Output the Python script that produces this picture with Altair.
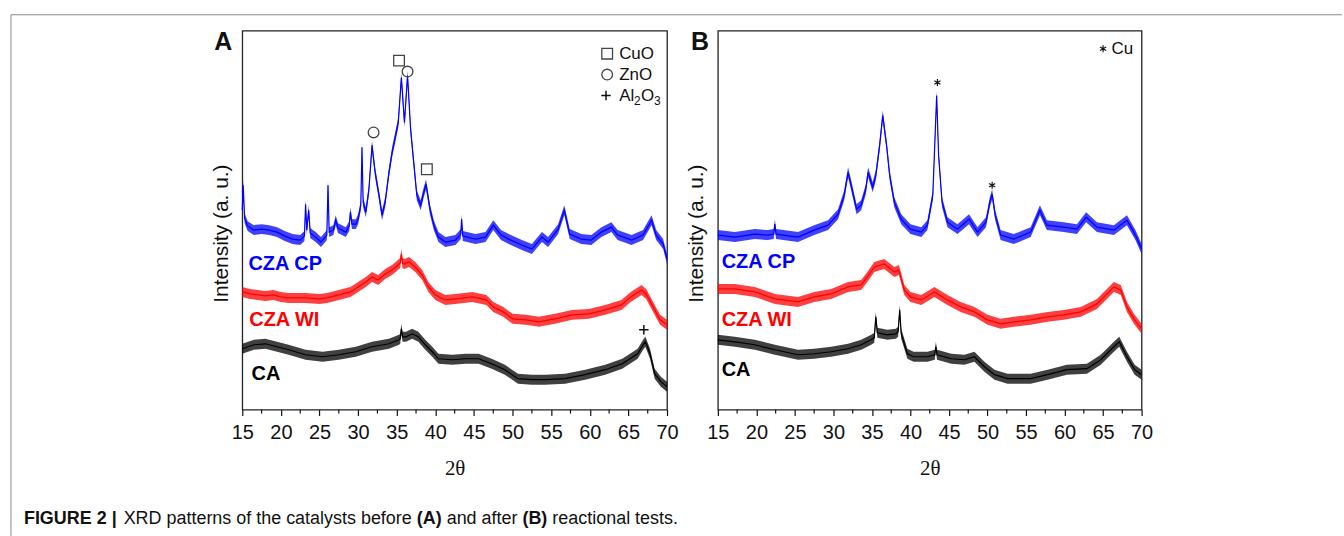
import altair as alt
import pandas as pd

# ---------------- data (2θ in degrees, intensity in a.u.) ----------------
SERIES = ["CZA CP", "CZA WI", "CA"]
COLORS = ["#0000ff", "#ff0000", "#000000"]

# Panel A: before the reactional tests
A_CP = [(15.0, 200), (15.12, 225), (15.3, 192), (15.7, 184), (16.5, 180), (17.5, 181), (18.5, 180),
        (19.5, 178), (20.5, 174), (21.5, 171), (22.5, 170), (23.05, 174), (23.2, 206), (23.35, 180),
        (23.6, 200), (23.8, 177), (24.5, 173), (25.2, 168), (25.95, 175), (26.1, 225), (26.25, 178),
        (26.8, 180), (27.1, 190), (27.4, 182), (28.4, 178), (28.85, 184), (29.0, 198), (29.2, 186),
        (29.7, 186), (30.0, 191), (30.35, 205), (30.5, 263), (30.65, 208), (31.0, 198), (31.4, 221),
        (31.8, 265), (32.2, 238), (32.7, 215), (33.1, 195), (33.5, 208), (34.0, 238), (34.4, 258),
        (34.8, 273), (35.2, 288), (35.6, 333), (36.0, 288), (36.4, 335), (36.8, 281), (37.2, 248),
        (37.6, 215), (38.1, 205), (38.5, 218), (38.8, 226), (39.3, 201), (39.8, 185), (40.4, 173),
        (41.3, 168), (42.6, 170), (43.3, 176), (43.4, 191), (43.55, 174), (45.2, 171), (46.5, 173),
        (47.5, 185), (48.5, 175), (49.5, 171), (51.2, 165), (52.5, 161), (53.8, 173), (54.6, 168),
        (55.9, 181), (56.7, 200), (57.4, 176), (58.9, 171), (60.2, 170), (61.5, 178), (62.8, 183),
        (63.6, 175), (65.4, 170), (66.9, 175), (68.0, 190), (68.6, 175), (69.5, 166), (70.0, 151)]
A_WI = [(15.0, 118), (16.0, 116), (17.0, 115), (18.0, 114), (19.0, 115), (20.0, 113), (21.0, 112),
        (22.0, 112), (23.2, 112), (25.0, 111), (26.0, 112), (27.5, 115), (29.0, 118), (30.0, 123),
        (31.0, 128), (31.8, 133), (32.6, 130), (33.5, 136), (34.4, 140), (35.3, 146), (35.45, 147),
        (35.6, 156), (35.75, 147), (36.0, 146), (36.6, 148), (37.4, 143), (38.3, 135), (39.1, 123),
        (40.0, 115), (41.3, 110), (42.6, 111), (44.8, 113), (46.6, 110), (47.5, 103), (48.8, 98),
        (50.0, 91), (51.7, 90), (53.4, 88), (55.5, 91), (57.7, 95), (59.9, 96), (62.0, 100),
        (64.1, 105), (65.3, 113), (66.7, 120), (67.3, 116), (68.2, 103), (69.1, 90), (70.0, 85)]
A_CA = [(15.0, 61), (16.5, 65), (18.0, 66), (19.5, 63), (21.0, 60), (23.2, 55), (25.4, 53),
        (27.5, 55), (29.7, 58), (31.8, 63), (34.0, 66), (35.3, 70), (35.45, 71), (35.6, 81),
        (35.75, 73), (36.2, 73), (37.0, 76), (37.8, 73), (38.7, 65), (39.6, 58), (40.4, 51),
        (42.2, 50), (43.9, 51), (45.6, 51), (47.3, 46), (49.0, 40), (50.7, 31), (52.5, 30),
        (54.2, 30), (56.8, 31), (59.4, 35), (62.0, 40), (64.2, 46), (66.2, 56), (66.9, 65),
        (67.2, 68), (67.8, 56), (68.4, 36), (69.2, 28), (70.0, 23)]

# Panel B: after the reactional tests
B_CP = [(15.0, 175), (17.2, 173), (19.8, 176), (21.5, 175), (22.25, 176), (22.4, 186), (22.55, 176),
        (25.4, 173), (27.5, 180), (29.3, 185), (30.6, 196), (31.4, 215), (31.9, 238), (32.3, 225),
        (33.0, 201), (33.6, 205), (34.2, 221), (34.5, 238), (35.1, 223), (35.5, 235), (36.0, 265),
        (36.4, 295), (36.9, 265), (37.3, 235), (37.9, 208), (38.8, 191), (40.0, 181), (41.4, 178),
        (42.2, 185), (42.9, 215), (43.15, 265), (43.4, 315), (43.65, 255), (44.1, 208), (44.8, 188),
        (46.1, 181), (47.6, 191), (48.7, 178), (49.8, 188), (50.3, 208), (50.6, 216), (51.0, 195),
        (51.7, 175), (53.4, 171), (55.6, 178), (56.8, 200), (57.7, 185), (59.9, 183), (61.6, 181),
        (62.8, 193), (64.2, 183), (66.4, 180), (68.1, 190), (69.2, 175), (70.0, 161)]
B_WI = [(15.0, 121), (17.2, 121), (19.8, 118), (22.4, 111), (25.4, 108), (27.5, 113), (29.7, 116),
        (31.9, 123), (33.6, 125), (34.4, 133), (35.3, 143), (36.6, 146), (37.9, 138), (38.5, 140),
        (39.2, 120), (40.0, 113), (41.4, 110), (43.1, 118), (44.8, 110), (46.5, 103), (48.3, 98),
        (50.0, 90), (51.7, 86), (53.4, 88), (55.6, 90), (57.8, 93), (59.9, 95), (62.1, 98),
        (64.2, 106), (65.5, 116), (66.4, 123), (67.3, 120), (68.1, 103), (69.0, 91), (70.0, 81)]
B_CA = [(15.0, 70), (17.2, 68), (19.8, 65), (22.4, 60), (25.4, 55), (27.5, 56), (29.7, 58),
        (31.9, 61), (33.6, 65), (34.9, 70), (35.3, 72), (35.5, 93), (35.7, 77), (37.0, 75),
        (38.1, 76), (38.4, 78), (38.6, 100), (38.8, 76), (39.6, 56), (40.4, 53), (42.2, 53),
        (43.15, 55), (43.3, 63), (43.45, 55), (45.3, 51), (47.0, 50), (48.3, 53), (49.6, 43),
        (50.9, 35), (52.6, 31), (55.6, 31), (57.8, 35), (60.3, 40), (62.9, 41), (64.7, 50),
        (66.4, 63), (67.1, 68), (68.1, 53), (69.1, 40), (70.0, 35)]

# series name labels (x in degrees, y in a.u.)
LABEL_A_X = [15.8, 15.9, 16.2]
LABEL_A_Y = [146, 90, 36]
LABEL_B_X = [15.5, 15.5, 15.5]
LABEL_B_Y = [148, 90, 40]

# phase markers
A_SQUARE_X, A_SQUARE_Y = [35.3, 38.9], [350, 241]          # CuO
A_CIRCLE_X, A_CIRCLE_Y = [36.4, 32.0], [339, 278]          # ZnO
A_PLUS_X, A_PLUS_Y = [67.0], [80]                          # Al2O3
B_STAR_X, B_STAR_Y = [43.5, 50.6], [328, 225]              # Cu

# in-plot keys
A_KEY_X, A_KEY_TEXT_X, A_KEY_Y = 62.25, 63.8, [357, 336, 315]
A_KEY_NAMES = ["CuO", "ZnO", "Al"]
B_KEY_X, B_KEY_TEXT_X, B_KEY_Y = 65.0, 66.1, 362

MAJOR_TICKS = [15, 20, 25, 30, 35, 40, 45, 50, 55, 60, 65, 70]
MINOR_TICKS = [17.5, 22.5, 27.5, 32.5, 37.5, 42.5, 47.5, 52.5, 57.5, 62.5, 67.5]

CAPTION = [("FIGURE 2 |", "bold", -219), ("XRD patterns of the catalysts before", "normal", -119),
           ("(A)", "bold", 175), ("and after", "normal", 205), ("(B)", "bold", 281),
           ("reactional tests.", "normal", 311)]

# ---------------- chart ----------------
FONT = "Liberation Sans"
NOISE = 5

xscale = alt.Scale(domain=[15, 70], nice=False)
yscale = alt.Scale(domain=[0, 380], nice=False)
color = alt.Color("series:N", scale=alt.Scale(domain=SERIES, range=COLORS), legend=None)

x_axis = alt.Axis(values=MAJOR_TICKS, format="d", tickSize=6, tickWidth=1.2, tickColor="#111",
                  labelFontSize=20, labelPadding=7, labelColor="#111", labelFont=FONT,
                  labelFlush=False, labelOverlap=False, domain=False, grid=False,
                  title="2θ", titleFont="Liberation Serif", titleFontSize=21,
                  titleFontWeight="normal", titleColor="#111", titleY=59, titleBaseline="middle")
y_axis = alt.Axis(title="Intensity (a. u.)", labels=False, ticks=False, domain=False, grid=False,
                  titleFont=FONT, titleFontSize=21, titleFontWeight="normal", titleColor="#111",
                  titleX=-21, titleY=203, titleAngle=270, titleAlign="center",
                  titleBaseline="middle")


def traces_df(parts):
    rows = []
    for name, pts in zip(SERIES, parts):
        for x, y in pts:
            rows.append({"series": name, "x": x, "y": y})
    return pd.DataFrame(rows)


def pts_df(xs, ys, **extra):
    d = pd.DataFrame({"x": xs, "y": ys})
    for k, v in extra.items():
        d[k] = v
    return d


def xenc():
    return alt.X("x:Q", scale=xscale, axis=x_axis)


def yenc():
    return alt.Y("y:Q", scale=yscale, axis=y_axis)


def panel(parts, lab_x, lab_y, letter, letter_x, extra, width):
    d = traces_df(parts)
    base = alt.Chart(d)
    band = base.mark_area(opacity=0.75).transform_calculate(
        lo=f"datum.y - {NOISE}", hi=f"datum.y + {NOISE}"
    ).encode(
        x=xenc(),
        y=alt.Y("lo:Q", scale=yscale, axis=y_axis),
        y2="hi:Q",
        color=color,
    )
    line = base.mark_line(strokeWidth=1.2).encode(x=xenc(), y=yenc(), color=color)
    labels = alt.Chart(pd.DataFrame({"x": lab_x, "y": lab_y, "series": SERIES})).mark_text(
        align="left", baseline="middle", font=FONT, fontSize=20, fontWeight="bold"
    ).encode(x=xenc(), y=yenc(), text="series:N", color=color)
    minor = alt.Chart(pd.DataFrame({"x": MINOR_TICKS})).mark_rule(
        color="#111", strokeWidth=1.2
    ).encode(x=xenc(), y=alt.value(380), y2=alt.value(384))
    let = alt.Chart(pd.DataFrame({"t": [letter]})).mark_text(
        font=FONT, fontSize=25, fontWeight="bold", align="center", baseline="middle", color="#111"
    ).encode(x=alt.value(letter_x), y=alt.value(11), text="t:N")
    layers = [band, line, labels, minor, let] + extra
    return alt.layer(*layers).properties(width=width, height=380)


MARK_STROKE = "#444"
squares = alt.Chart(pts_df(A_SQUARE_X + [A_KEY_X], A_SQUARE_Y + [A_KEY_Y[0]])).mark_point(
    shape="square", size=115, filled=False, color=MARK_STROKE, strokeWidth=1.3, opacity=1
).encode(x=xenc(), y=yenc())
circles = alt.Chart(pts_df(A_CIRCLE_X + [A_KEY_X], A_CIRCLE_Y + [A_KEY_Y[1]])).mark_point(
    shape="circle", size=115, filled=False, color=MARK_STROKE, strokeWidth=1.3, opacity=1
).encode(x=xenc(), y=yenc())
PLUS = "M-1,0L1,0M0,-1L0,1"
plus = alt.Chart(pts_df(A_PLUS_X + [A_KEY_X - 0.15], A_PLUS_Y + [A_KEY_Y[2]])).mark_point(
    shape=PLUS, size=90, filled=False, color="#111", strokeWidth=1.5, opacity=1
).encode(x=xenc(), y=yenc())
key_a = alt.Chart(pts_df([A_KEY_TEXT_X] * 3, A_KEY_Y, t=A_KEY_NAMES)).mark_text(
    align="left", baseline="middle", font=FONT, fontSize=17, color="#111"
).encode(x=xenc(), y=yenc(), text="t:N")
# subscripts of Al2O3 placed as separate text marks
sub_parts = []
for t, dx, dy, fs in zip(["2", "O", "3"], [15, 22, 35], [6, 0, 6], [12, 17, 12]):
    sub_parts.append(
        alt.Chart(pts_df([A_KEY_TEXT_X], [A_KEY_Y[2]], t=[t])).mark_text(
            align="left", baseline="middle", font=FONT, fontSize=fs, dx=dx, dy=dy, color="#111"
        ).encode(x=xenc(), y=yenc(), text="t:N")
    )

# frame of the figure and caption (decoration, placed relative to panel A's plot)
border_l = alt.Chart(pd.DataFrame({"a": [0]})).mark_rule(color="#8a8a8a", strokeWidth=1).encode(
    x=alt.value(-232), y=alt.value(-16), y2=alt.value(508))
border_t = alt.Chart(pd.DataFrame({"a": [0]})).mark_rule(color="#8a8a8a", strokeWidth=1).encode(
    x=alt.value(-232), x2=alt.value(1103), y=alt.value(-16))
caption = []
for txt, wt, px in CAPTION:
    caption.append(
        alt.Chart(pd.DataFrame({"t": [txt]})).mark_text(
            align="left", baseline="alphabetic", font=FONT, fontSize=18, fontWeight=wt,
            color="#111"
        ).encode(x=alt.value(px), y=alt.value(495), text="t:N")
    )

ASTER = "M0,-1L0,1M-0.87,-0.5L0.87,0.5M-0.87,0.5L0.87,-0.5"
stars = alt.Chart(pts_df(B_STAR_X + [B_KEY_X], B_STAR_Y + [B_KEY_Y])).mark_point(
    shape=ASTER, size=50, filled=False, color="#111", strokeWidth=1.2, opacity=1
).encode(x=xenc(), y=yenc())
key_b = alt.Chart(pts_df([B_KEY_TEXT_X], [B_KEY_Y], t=["Cu"])).mark_text(
    align="left", baseline="middle", font=FONT, fontSize=17, color="#111"
).encode(x=xenc(), y=yenc(), text="t:N")

panel_a = panel([A_CP, A_WI, A_CA], LABEL_A_X, LABEL_A_Y, "A", -19,
                [squares, circles, plus, key_a] + sub_parts + [border_l, border_t] + caption, 426)
panel_b = panel([B_CP, B_WI, B_CA], LABEL_B_X, LABEL_B_Y, "B", -18, [stars, key_b], 425)

chart = alt.hconcat(panel_a, panel_b, spacing=51, bounds="flush").properties(
    padding={"left": 9, "top": 12, "right": 0, "bottom": 0},
    background="white",
).configure_view(stroke="#222", strokeWidth=1.3)

chart.save("out.html", embed_options={"renderer": "svg", "actions": False})
